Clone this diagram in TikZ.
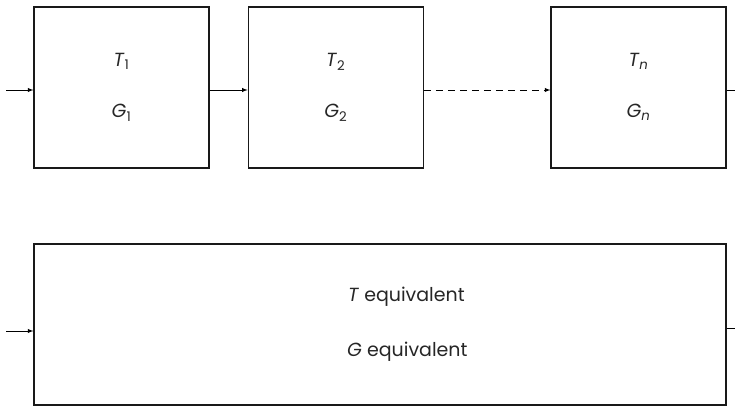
\documentclass[tikz,border=0pt]{standalone}
\usepackage{fontspec}
\setmainfont{Poppins}
\begin{document}
\begin{tikzpicture}[x=1pt,y=-1pt,
  block/.style={draw=black!90,line width=1.2pt,minimum width=175pt,minimum height=161pt,inner sep=0pt},
  lbl/.style={font=\fontsize{19}{22}\selectfont,text=black!85,inner sep=0pt},
  link/.style={line width=0.9pt,-latex}]

\useasboundingbox (0,0) rectangle (735,406);

% the n stages
\node[block] (b1) at (121.5,87.5) {};
\node[block] (b2) at (335.75,87.5) {};
\node[block] (b3) at (638.5,87.5) {};

\node[lbl] (t1) at ([yshift=26pt]b1.center) {\textit{T}\textsubscript{1}};
\node[lbl] (g1) at ([yshift=-25pt]b1.center) {\textit{G}\textsubscript{1}};
\node[lbl] (t2) at ([yshift=26pt]b2.center) {\textit{T}\textsubscript{2}};
\node[lbl] (g2) at ([yshift=-25pt]b2.center) {\textit{G}\textsubscript{2}};
\node[lbl] (tn) at ([yshift=26pt]b3.center) {\textit{T}\textsubscript{\textit{n}}};
\node[lbl] (gn) at ([yshift=-25pt]b3.center) {\textit{G}\textsubscript{\textit{n}}};

\coordinate (in) at (6,90);
\coordinate (out) at (735,90);
\draw[link] (in) -- (in -| b1.west);
\draw[link] (b1.east |- in) -- (b2.west |- in);
\draw[link,dash pattern=on 7pt off 5pt] (b2.east |- in) -- (b3.west |- in);
\draw[line width=0.9pt] (b3.east |- out) -- (out);

% the equivalent stage
\node[block,minimum width=692pt] (beq) at (380,324.5) {};
\node[lbl,anchor=west] (teq) at ([xshift=-32pt,yshift=28pt]beq.center) {\textit{T} equivalent};
\node[lbl,anchor=west] (geq) at ([xshift=-33pt,yshift=-27pt]beq.center) {\textit{G} equivalent};

\coordinate (ineq) at (6,331);
\coordinate (outeq) at (735,328);
\draw[link] (ineq) -- (ineq -| beq.west);
\draw[line width=0.9pt] (beq.east |- outeq) -- (outeq);

\end{tikzpicture}
\end{document}
